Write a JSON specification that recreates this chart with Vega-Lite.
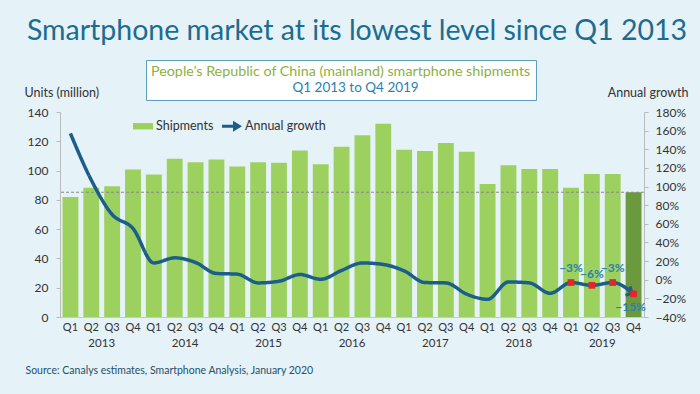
{
  "$schema": "https://vega.github.io/schema/vega-lite/v6.json",
  "width": 584,
  "height": 205,
  "autosize": {"type": "none"},
  "padding": {"left": 60, "top": 112, "right": 56, "bottom": 77},
  "background": "#e5f2f8",
  "config": {
    "font": "Lato",
    "view": {"stroke": null},
    "axis": {"labelFont": "Lato", "titleFont": "Lato", "grid": false, "labelOverlap": false, "labelBound": false},
    "legend": {"labelFont": "Lato", "titleFont": "Lato"}
  },
  "title": {
    "text": "Smartphone market at its lowest level since Q1 2013",
    "anchor": "middle",
    "frame": "group",
    "dx": 5,
    "font": "Lato",
    "fontSize": 28.5,
    "fontWeight": "normal",
    "color": "#1c6c91",
    "offset": 14
  },
  "data": {
    "values": [
      {"period": "2013-Q1", "year": "2013", "shipments": 82, "growth": 1.57},
      {"period": "2013-Q2", "year": "2013", "shipments": 88.2, "growth": 1.07},
      {"period": "2013-Q3", "year": "2013", "shipments": 89.3, "growth": 0.70},
      {"period": "2013-Q4", "year": "2013", "shipments": 100.7, "growth": 0.55},
      {"period": "2014-Q1", "year": "2014", "shipments": 97.3, "growth": 0.18},
      {"period": "2014-Q2", "year": "2014", "shipments": 108, "growth": 0.235},
      {"period": "2014-Q3", "year": "2014", "shipments": 105.7, "growth": 0.185},
      {"period": "2014-Q4", "year": "2014", "shipments": 107.5, "growth": 0.067},
      {"period": "2015-Q1", "year": "2015", "shipments": 102.7, "growth": 0.06},
      {"period": "2015-Q2", "year": "2015", "shipments": 105.7, "growth": -0.034},
      {"period": "2015-Q3", "year": "2015", "shipments": 105.3, "growth": -0.016},
      {"period": "2015-Q4", "year": "2015", "shipments": 113.7, "growth": 0.056},
      {"period": "2016-Q1", "year": "2016", "shipments": 104.4, "growth": 0.005},
      {"period": "2016-Q2", "year": "2016", "shipments": 116.2, "growth": 0.10},
      {"period": "2016-Q3", "year": "2016", "shipments": 124.2, "growth": 0.18},
      {"period": "2016-Q4", "year": "2016", "shipments": 132, "growth": 0.164},
      {"period": "2017-Q1", "year": "2017", "shipments": 114.2, "growth": 0.095},
      {"period": "2017-Q2", "year": "2017", "shipments": 113.3, "growth": -0.03},
      {"period": "2017-Q3", "year": "2017", "shipments": 118.8, "growth": -0.034},
      {"period": "2017-Q4", "year": "2017", "shipments": 112.8, "growth": -0.155},
      {"period": "2018-Q1", "year": "2018", "shipments": 90.9, "growth": -0.21},
      {"period": "2018-Q2", "year": "2018", "shipments": 103.7, "growth": -0.024},
      {"period": "2018-Q3", "year": "2018", "shipments": 101, "growth": -0.034},
      {"period": "2018-Q4", "year": "2018", "shipments": 101, "growth": -0.145},
      {"period": "2019-Q1", "year": "2019", "shipments": 88.2, "growth": -0.03},
      {"period": "2019-Q2", "year": "2019", "shipments": 97.7, "growth": -0.06},
      {"period": "2019-Q3", "year": "2019", "shipments": 97.7, "growth": -0.03},
      {"period": "2019-Q4", "year": "2019", "shipments": 85.2, "growth": -0.152}
    ]
  },
  "layer": [
    {
      "encoding": {
        "y": {
          "field": "shipments", "type": "quantitative",
          "scale": {"domain": [0, 140]},
          "axis": {
            "values": [0, 20, 40, 60, 80, 100, 120, 140], "labelOverlap": false,
            "title": "Units (million)", "titleAngle": 0, "titleAlign": "left",
            "titleX": -36, "titleY": -16, "titleBaseline": "alphabetic",
            "titleFontSize": 12.5, "titleFontWeight": "normal", "titleColor": "#333333",
            "tickSize": 4, "labelPadding": 8, "labelFontSize": 12, "labelColor": "#333333",
            "domainColor": "#bbbbbb", "tickColor": "#bbbbbb"
          }
        }
      },
      "layer": [
        {
          "mark": {"type": "bar"},
          "encoding": {
            "x": {
              "field": "period", "type": "nominal", "sort": "ascending",
              "scale": {"paddingInner": 0.24, "paddingOuter": 0.12},
              "axis": {
                "orient": "bottom",
                "labelExpr": "split(datum.value, '-')[1]",
                "labelAngle": 0, "labelFontSize": 11, "labelColor": "#333333", "labelPadding": 4,
                "ticks": false, "domainColor": "#c8c8c8",
                "title": "Source: Canalys estimates, Smartphone  Analysis, January 2020",
                "titleAnchor": "start", "titleAlign": "left", "titleX": -35, "titleY": 56,
                "titleBaseline": "alphabetic", "titleFontSize": 10.5, "titleFontWeight": "normal",
                "titleColor": "#24506a"
              }
            },
            "color": {
              "condition": {"test": "datum.period === '2019-Q4'", "value": "#6b9a3e"},
              "datum": "Shipments",
              "scale": {"domain": ["Shipments", "Annual growth"], "range": ["#9cd05f", "#1b5e8a"]},
              "legend": {
                "orient": "none", "legendX": 73, "legendY": 4, "direction": "horizontal",
                "title": null, "labelFontSize": 12.5, "labelColor": "#333333",
                "labelOffset": 3, "columnPadding": 8, "symbolSize": 400,
                "encode": {
                  "symbols": {
                    "update": {
                      "shape": {"signal": "datum.value === 'Shipments' ? 'M-1,-0.32H1V0.32H-1Z' : 'M-1,-0.16H0.1V-0.55L1,0L0.1,0.55V0.16H-1Z'"},
                      "fill": {"scale": "color", "field": "value"},
                      "strokeWidth": {"value": 0},
                      "opacity": {"value": 1}
                    }
                  }
                }
              }
            }
          }
        },
        {
          "transform": [{"filter": "datum.period === '2019-Q4'"}],
          "mark": {"type": "rule", "strokeDash": [3, 2], "color": "#8a8a8a", "strokeWidth": 1}
        },
        {
          "transform": [{"filter": "indexof(datum.period, 'Q2') > 0"}],
          "mark": {"type": "text", "fontSize": 11.5, "color": "#333333", "baseline": "middle", "dy": 27},
          "encoding": {
            "x": {"field": "period", "type": "nominal", "sort": "ascending", "bandPosition": 1.158},
            "y": {
              "datum": 0,
              "axis": {
                "values": [0, 20, 40, 60, 80, 100, 120, 140], "labelOverlap": false,
                "title": "Units (million)", "titleAngle": 0, "titleAlign": "left",
                "titleX": -36, "titleY": -16, "titleBaseline": "alphabetic",
                "titleFontSize": 12.5, "titleFontWeight": "normal", "titleColor": "#333333",
                "tickSize": 4, "labelPadding": 8, "labelFontSize": 12, "labelColor": "#333333",
                "domainColor": "#bbbbbb", "tickColor": "#bbbbbb"
              }
            },
            "text": {"field": "year"}
          }
        }
      ]
    },
    {
      "encoding": {
        "x": {"field": "period", "type": "nominal", "sort": "ascending", "axis": {"orient": "top", "labels": false, "ticks": false, "domain": false, "title": null}},
        "y": {
          "field": "growth", "type": "quantitative",
          "scale": {"domain": [-0.4, 1.8]},
          "axis": {
            "orient": "right", "format": ".0%", "labelOverlap": false,
            "values": [-0.4, -0.2, 0, 0.2, 0.4, 0.6, 0.8, 1, 1.2, 1.4, 1.6, 1.8],
            "title": "Annual growth", "titleAngle": 0, "titleAlign": "right",
            "titleX": 44, "titleY": -16, "titleBaseline": "alphabetic",
            "titleFontSize": 12.5, "titleFontWeight": "normal", "titleColor": "#333333",
            "tickSize": 4, "labelPadding": 7, "labelFontSize": 12, "labelColor": "#333333",
            "domainColor": "#bbbbbb", "tickColor": "#bbbbbb"
          }
        }
      },
      "layer": [
        {
          "mark": {"type": "line", "interpolate": "monotone", "strokeWidth": 3.5},
          "encoding": {
            "color": {"datum": "Annual growth", "legend": null},
            "strokeDash": {
              "datum": "Q1 2013 to Q4 2019",
              "scale": {"range": [[1, 0]]},
              "legend": {
                "orient": "none", "legendX": 86, "legendY": -52,
                "title": "People’s Republic of China (mainland) smartphone shipments",
                "titleColor": "#8db043", "titleFontSize": 14.3, "titleFontWeight": "normal",
                "titleLimit": 600, "titlePadding": 2,
                "labelColor": "#2a7fb3", "labelFontSize": 13.5, "labelOffset": 128, "labelLimit": 300,
                "symbolSize": 0, "symbolOpacity": 0, "symbolStrokeWidth": 0,
                "fillColor": "#ffffff", "strokeColor": "#5a9fc0", "padding": 5
              }
            }
          }
        },
        {
          "transform": [{"filter": "datum.period === '2019-Q4'"}],
          "mark": {"type": "point", "shape": "M-1.3,-1L-0.3,0L-1.3,1", "filled": false, "stroke": "#1b5e8a", "strokeWidth": 3, "size": 100, "angle": 27, "opacity": 1}
        },
        {
          "transform": [{"filter": "datum.year === '2019'"}],
          "mark": {"type": "point", "shape": "square", "filled": true, "color": "#e3262b", "size": 45, "opacity": 1}
        },
        {
          "transform": [{"filter": "datum.period === '2019-Q1' || datum.period === '2019-Q3'"}],
          "mark": {"type": "text", "fontSize": 12, "fontWeight": "bold", "color": "#2a81b0", "dy": -15},
          "encoding": {"text": {"field": "growth", "type": "quantitative", "format": ".0%"}}
        },
        {
          "transform": [{"filter": "datum.period === '2019-Q2'"}],
          "mark": {"type": "text", "fontSize": 12, "fontWeight": "bold", "color": "#2a81b0", "dy": -11},
          "encoding": {"text": {"field": "growth", "type": "quantitative", "format": ".0%"}}
        },
        {
          "transform": [{"filter": "datum.period === '2019-Q4'"}],
          "mark": {"type": "text", "fontSize": 12, "fontWeight": "bold", "color": "#2a81b0", "dy": 13, "dx": -3},
          "encoding": {"text": {"field": "growth", "type": "quantitative", "format": ".0%"}}
        }
      ]
    }
  ],
  "resolve": {"scale": {"y": "independent"}, "axis": {"x": "independent"}}
}
